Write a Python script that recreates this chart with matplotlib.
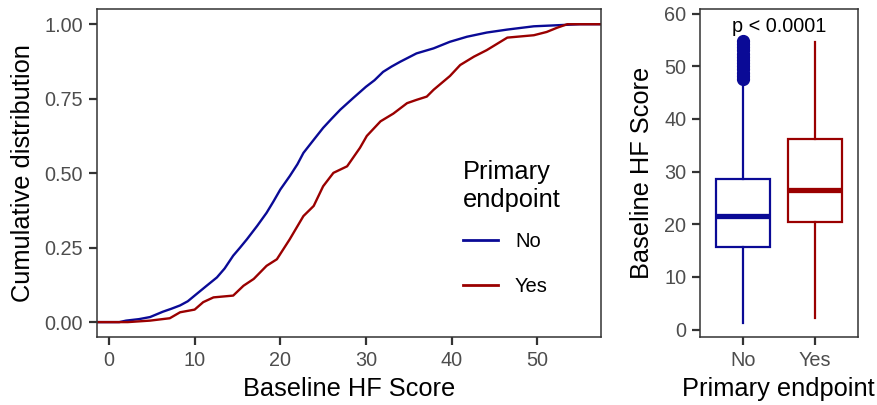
import matplotlib
matplotlib.use("Agg")
import matplotlib.pyplot as plt
import numpy as np

plt.rcParams['font.family'] = ['Liberation Sans', 'DejaVu Sans']

# ---- data ----
groups = ["No", "Yes"]
colors = {"No": "#0A0A96", "Yes": "#9A0000"}

# ECDF of baseline HF score, group "No"
no_x = [1.2, 2.0, 3.5, 4.8, 6.3, 7.3, 8.3, 9.2, 10.0, 11.4, 12.6, 13.5, 14.5, 15.3,
        16.1, 17.3, 18.4, 19.2, 20.0, 21.1, 22.0, 22.7, 23.9, 25.0, 26.0, 27.0,
        28.5, 30.0, 31.0, 32.0, 33.0, 34.0, 35.9, 37.9, 39.8, 41.8, 44.1, 46.5,
        49.6, 52.7, 55.0]
no_y = [0.0, 0.005, 0.010, 0.017, 0.035, 0.045, 0.056, 0.070, 0.089, 0.122, 0.150,
        0.180, 0.223, 0.250, 0.278, 0.323, 0.367, 0.405, 0.445, 0.490, 0.530, 0.568,
        0.612, 0.652, 0.683, 0.713, 0.752, 0.790, 0.812, 0.840, 0.858, 0.874, 0.902,
        0.919, 0.941, 0.958, 0.972, 0.982, 0.993, 0.997, 1.0]

# ECDF of baseline HF score, group "Yes"
yes_x = [2.2, 4.8, 7.1, 8.3, 10.0, 11.0, 12.2, 14.5, 15.7, 16.9, 18.4, 19.6, 21.1,
         22.7, 23.9, 25.0, 26.2, 27.8, 29.3, 30.1, 31.7, 33.2, 34.8, 35.9, 37.1,
         37.9, 39.8, 41.0, 42.6, 44.1, 45.7, 46.5, 49.6, 51.1, 52.3, 53.5, 54.6]
yes_y = [0.0, 0.005, 0.013, 0.033, 0.042, 0.067, 0.083, 0.089, 0.122, 0.145, 0.189,
         0.211, 0.278, 0.356, 0.390, 0.456, 0.501, 0.523, 0.585, 0.625, 0.674, 0.700,
         0.735, 0.746, 0.757, 0.780, 0.826, 0.863, 0.891, 0.913, 0.941, 0.955, 0.963,
         0.974, 0.988, 1.0, 1.0]

# Boxplot summary statistics
box_q1 = [15.6, 20.5]
box_med = [21.6, 26.5]
box_q3 = [28.6, 36.1]
box_whislo = [1.3, 2.2]
box_whishi = [47.0, 54.6]
no_outliers = [47.6, 48.2, 48.8, 49.4, 50.0, 50.6, 51.2, 51.8, 52.4, 53.0, 53.6,
               54.2, 54.8]
yes_outliers = []

ecdf_xticks = [0, 10, 20, 30, 40, 50]
ecdf_yticks = [0.0, 0.25, 0.50, 0.75, 1.00]
ecdf_yticklabels = ["0.00", "0.25", "0.50", "0.75", "1.00"]
box_yticks = [0, 10, 20, 30, 40, 50, 60]
p_text = "p < 0.0001"

# ---- styling ----
TICK_COLOR = "#4D4D4D"
FRAME = "#333333"
TICK_FS = 14.3
TITLE_FS = 18.3

fig = plt.figure(figsize=(8.77, 4.05), dpi=100)
ax1 = fig.add_axes([0.1106, 0.1679, 0.5743, 0.8091])
ax2 = fig.add_axes([0.7982, 0.1679, 0.1798, 0.8091])

for ax in (ax1, ax2):
    for sp in ax.spines.values():
        sp.set_color(FRAME)
        sp.set_linewidth(1.1)
    ax.tick_params(axis='both', colors=FRAME, labelcolor=TICK_COLOR,
                   labelsize=TICK_FS, length=6, width=1.6, pad=4.0)

# ---- left: ECDF ----
xlim = (-1.4, 57.4)
ax1.set_xlim(*xlim)
ax1.set_ylim(-0.05, 1.05)
for name, xs, ys in (("No", no_x, no_y), ("Yes", yes_x, yes_y)):
    xx = [xlim[0]] + list(xs) + [xlim[1]]
    yy = [ys[0]] + list(ys) + [ys[-1]]
    ax1.plot(xx, yy, color=colors[name], lw=1.7, label=name, solid_joinstyle='round')
ax1.set_xticks(ecdf_xticks)
ax1.set_yticks(ecdf_yticks)
ax1.set_yticklabels(ecdf_yticklabels)
ax1.set_xlabel("Baseline HF Score", fontsize=TITLE_FS, labelpad=5)
ax1.set_ylabel("Cumulative distribution", fontsize=TITLE_FS, labelpad=7)

leg = ax1.legend(loc='upper left', bbox_to_anchor=(0.69, 0.594), frameon=False,
                 title="Primary\nendpoint", fontsize=14.5, title_fontsize=18.3,
                 handlelength=1.75, handletextpad=0.85, labelspacing=1.3,
                 alignment='left')
for line in leg.get_lines():
    line.set_linewidth(2.0)
leg._legend_box.sep = 14

# ---- right: boxplot ----
stats = []
for i, g in enumerate(groups):
    stats.append(dict(label=g, q1=box_q1[i], med=box_med[i], q3=box_q3[i],
                      whislo=box_whislo[i], whishi=box_whishi[i],
                      fliers=[no_outliers, yes_outliers][i]))
bp = ax2.bxp(stats, positions=[1, 2], widths=0.75, showcaps=False,
             patch_artist=True, manage_ticks=False)
for i, g in enumerate(groups):
    c = colors[g]
    bp['boxes'][i].set(facecolor='white', edgecolor=c, linewidth=1.6)
    bp['medians'][i].set(color=c, linewidth=3.8, solid_capstyle='butt')
    for w in bp['whiskers'][2 * i:2 * i + 2]:
        w.set(color=c, linewidth=1.6)
    bp['fliers'][i].set(marker='o', markerfacecolor=c, markeredgecolor=c,
                        markersize=8.5, linestyle='none')

ax2.set_xlim(0.4, 2.6)
ax2.set_ylim(-1.4, 60.8)
ax2.set_xticks([1, 2])
ax2.set_xticklabels(groups)
ax2.set_yticks(box_yticks)
ax2.set_xlabel("Primary endpoint", fontsize=TITLE_FS, labelpad=5)
ax2.set_ylabel("Baseline HF Score", fontsize=TITLE_FS, labelpad=7)
ax2.text(1.5, 57.5, p_text, ha='center', va='center', fontsize=14.3, color='black')

fig.savefig("out.png", dpi=100)
